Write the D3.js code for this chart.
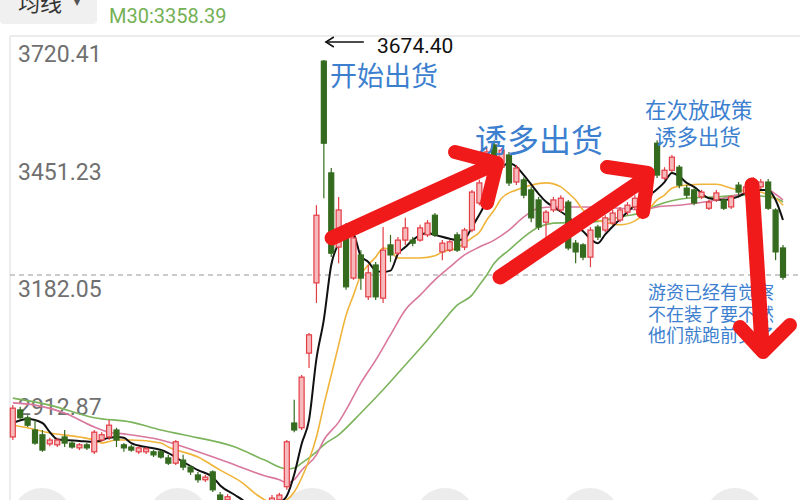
<!DOCTYPE html>
<html><head><meta charset="utf-8">
<script src="https://cdn.jsdelivr.net/npm/d3@7/dist/d3.min.js"></script>
<style>body{margin:0;background:#fff}svg{display:block}</style>
</head><body>
<svg id="c" width="800" height="500"></svg>
<script>
// ---- data ----
const yTicks = [3720.41, 3451.23, 3182.05, 2912.87];
const yTickLabels = ["3720.41", "3451.23", "3182.05", "2912.87"];
const refLine = 3182.05;
const peakValue = 3674.40;
const ma30Label = "M30:3358.39";

const opens = [2811,2873,2855,2827,2816,2795,2793,2811,2797,2786,2793,2777,2804,2811,2827,2793,2788,2777,2777,2777,2777,2763,2751,2758,2742,2724,2713,2731,2678,2667,2655,2644,2621,2632,2632,2655,2667,2697,2843,2832,3003,3164,3672,3416,3246,3292,3175,3228,3132,3205,3129,3251,3232,3262,3262,3262,3274,3319,3235,3239,3274,3246,3285,3347,3422,3480,3429,3457,3395,3400,3377,3354,3303,3331,3331,3349,3255,3251,3223,3292,3285,3301,3308,3326,3338,3354,3365,3484,3404,3422,3429,3381,3377,3361,3335,3354,3354,3338,3388,3370,3386,3384,3395,3331,3244];
const highs = [2884,2880,2861,2850,2827,2809,2809,2827,2802,2797,2797,2827,2822,2850,2832,2797,2793,2790,2788,2781,2781,2770,2804,2770,2747,2731,2724,2735,2685,2680,2662,2648,2644,2639,2662,2678,2683,2804,2896,2953,3049,3342,3674.4,3427,3361,3301,3274,3239,3205,3212,3292,3274,3269,3313,3269,3297,3308,3324,3262,3262,3280,3290,3377,3400,3473,3491,3473,3464,3434,3406,3384,3361,3331,3361,3365,3354,3262,3255,3292,3297,3319,3331,3338,3349,3365,3377,3395,3491,3429,3457,3434,3388,3381,3377,3354,3377,3358,3365,3395,3388,3406,3402,3402,3335,3251];
const lows = [2804,2850,2834,2793,2777,2790,2788,2788,2784,2781,2781,2772,2800,2804,2788,2777,2777,2772,2772,2765,2761,2747,2747,2735,2724,2706,2708,2685,2655,2660,2632,2621,2614,2609,2621,2648,2662,2690,2822,2827,2969,3118,3358,3223,3209,3148,3171,3148,3125,3125,3118,3212,3228,3251,3248,3258,3269,3269,3216,3235,3235,3239,3280,3342,3418,3445,3422,3386,3388,3358,3303,3285,3262,3326,3326,3239,3209,3216,3200,3262,3280,3297,3303,3319,3331,3349,3361,3404,3400,3418,3381,3358,3342,3356,3331,3349,3331,3333,3365,3365,3381,3379,3331,3216,3171];
const closes = [2877,2855,2838,2797,2781,2804,2804,2797,2788,2793,2786,2822,2816,2838,2804,2786,2781,2786,2784,2770,2765,2751,2800,2742,2731,2713,2719,2690,2662,2674,2639,2626,2639,2616,2655,2671,2678,2800,2827,2948,3045,3319,3484,3232,3331,3155,3267,3175,3187,3132,3239,3228,3262,3290,3255,3290,3301,3274,3255,3258,3239,3285,3372,3393,3464,3450,3468,3393,3427,3365,3313,3292,3326,3354,3358,3244,3235,3223,3285,3269,3313,3324,3331,3342,3358,3372,3388,3411,3422,3452,3388,3365,3347,3372,3349,3370,3335,3361,3372,3384,3400,3395,3335,3235,3177];

// moving averages: [candle index, value]
const ma5 = [[0,2843],[2,2852],[4,2843],[5,2822],[6,2806],[9,2802],[11,2800],[13,2809],[14,2811],[15,2809],[16,2797],[18,2788],[20,2781],[21,2774],[23,2754],[25,2735],[27,2719],[28,2700],[30,2678],[31,2667],[33,2642],[35,2648],[36,2660],[37,2676],[38,2725],[39,2795],[40,2850],[41,2990],[42,3080],[43,3205],[44,3255],[45,3283],[46,3276],[47,3225],[48,3212],[49,3192],[50,3189],[51,3192],[52,3230],[53,3246],[54,3262],[56,3278],[57,3274],[59,3265],[60,3262],[61,3265],[62,3292],[64,3354],[65,3400],[66,3427],[67,3438],[68,3430],[69,3411],[71,3368],[72,3350],[73,3338],[75,3315],[77,3282],[79,3255],[80,3275],[82,3310],[84,3342],[86,3365],[88,3395],[89,3416],[90,3408],[91,3393],[92,3384],[94,3358],[96,3354],[98,3362],[100,3377],[102,3377],[103,3354],[104,3308]];
const ma10 = [[0,2838],[2,2832],[5,2820],[9,2811],[11,2804],[12,2797],[14,2804],[16,2804],[20,2797],[21,2788],[25,2765],[28,2735],[31,2706],[33,2678],[34,2667],[35,2660],[36,2660],[37,2667],[38,2685],[39,2717],[40,2758],[41,2811],[42,2884],[43,2953],[44,3022],[45,3090],[46,3136],[47,3182],[48,3205],[49,3223],[50,3244],[51,3239],[52,3221],[55,3221],[57,3226],[58,3235],[60,3244],[61,3255],[62,3267],[63,3280],[64,3308],[65,3331],[66,3358],[68,3377],[70,3388],[72,3393],[74,3384],[75,3370],[76,3354],[77,3331],[78,3315],[80,3303],[82,3297],[84,3306],[85,3319],[86,3335],[87,3354],[88,3365],[89,3381],[91,3388],[93,3390],[95,3390],[97,3381],[99,3374],[101,3372],[102,3365],[103,3358],[104,3342]];
const ma20 = [[0,2889],[3,2884],[7,2866],[11,2834],[13,2822],[15,2818],[20,2804],[25,2777],[30,2747],[34,2722],[36,2713],[37,2706],[38,2713],[39,2735],[41,2770],[42,2804],[44,2845],[45,2873],[47,2935],[49,2987],[51,3045],[53,3102],[55,3136],[57,3171],[59,3200],[61,3228],[63,3246],[65,3262],[67,3285],[69,3315],[71,3335],[73,3338],[77,3338],[82,3335],[85,3331],[87,3338],[90,3342],[95,3354],[99,3370],[101,3377],[102,3377],[103,3367],[104,3354]];
const ma30 = [[0,2900],[5,2884],[11,2855],[16,2845],[20,2827],[23,2816],[30,2788],[34,2758],[37,2738],[38,2740],[39,2751],[41,2777],[42,2793],[44,2816],[47,2866],[50,2919],[53,2976],[56,3033],[58,3074],[60,3113],[62,3136],[63,3159],[64,3182],[65,3209],[67,3239],[69,3269],[71,3292],[73,3301],[78,3303],[82,3315],[85,3326],[87,3342],[91,3358],[95,3361],[99,3365],[101,3363],[102,3361],[103,3358],[104,3350]];

const notes = {
  start: "开始出货",
  lure1: "诱多出货",
  lure2a: "在次放政策",
  lure2b: "诱多出货",
  warn: ["游资已经有觉察", "不在装了要不然", "他们就跑前头了"]
};

// ---- drawing ----
const svg = d3.select("#c");
const W = 800, H = 500;
const x = d3.scaleLinear().domain([0, opens.length - 1]).range([12.8, 783]);
const y = d3.scaleLinear().domain([2912.87, 3720.41]).range([392.5, 40]);

// top bar
svg.append("rect").attr("x", 0).attr("y", -6).attr("width", 97).attr("height", 30).attr("rx", 4).attr("fill", "#f0f0f0");
svg.append("text").attr("x", 18).attr("y", 11).attr("font-family", "Noto Sans CJK SC").attr("font-size", 22).attr("fill", "#333").text("均线");
svg.append("text").attr("x", 74).attr("y", 6).attr("font-family", "Noto Sans CJK SC").attr("font-size", 12).attr("fill", "#555").text("▾");
svg.append("text").attr("x", 109).attr("y", 23).attr("font-family", "Roboto, sans-serif").attr("font-size", 20).attr("fill", "#74b155").text(ma30Label);

// frame
svg.append("line").attr("x1", 10).attr("x2", W).attr("y1", 36).attr("y2", 36).attr("stroke", "#e6e6e6").attr("stroke-width", 1.5);
svg.append("line").attr("x1", 10).attr("x2", 10).attr("y1", 36).attr("y2", H).attr("stroke", "#e6e6e6").attr("stroke-width", 1.5);

// ref dashed line
svg.append("line").attr("x1", 10).attr("x2", W).attr("y1", y(refLine)).attr("y2", y(refLine))
  .attr("stroke", "#bbb").attr("stroke-width", 1.5).attr("stroke-dasharray", "5,4");

// bottom faint circles
[42, 178, 312, 445, 590, 735].forEach(cx => {
  svg.append("circle").attr("cx", cx).attr("cy", 518).attr("r", 30).attr("fill", "#ececec");
});

// y labels
svg.selectAll("text.yl").data(yTicks).enter().append("text").attr("class", "yl")
  .attr("x", 18).attr("y", d => y(d) + 22)
  .attr("font-family", "Roboto, sans-serif").attr("font-size", 23).attr("fill", "#707070")
  .text((d, i) => yTickLabels[i]);

// MA lines
const line = d3.line().x(d => x(d[0])).y(d => y(d[1])).curve(d3.curveMonotoneX);
[[ma30, "#7cb45c", 1.6], [ma20, "#d9789d", 1.6], [ma10, "#f0b43a", 1.6], [ma5, "#111", 2]].forEach(([data, col, w]) => {
  svg.append("path").attr("d", line(data)).attr("fill", "none").attr("stroke", col).attr("stroke-width", w);
});

// candles
const bw = 5;
const candles = svg.append("g");
opens.forEach((o, i) => {
  const c = closes[i], up = c >= o;
  const col = up ? "#e33d45" : "#356b1f";
  const cx = x(i);
  candles.append("line").attr("x1", cx).attr("x2", cx).attr("y1", y(highs[i])).attr("y2", y(lows[i]))
    .attr("stroke", col).attr("stroke-width", 1.2);
  const top = y(Math.max(o, c)), bot = y(Math.min(o, c));
  candles.append("rect").attr("x", cx - bw / 2).attr("y", top).attr("width", bw).attr("height", Math.max(1.5, bot - top))
    .attr("fill", up ? "#f6b9bc" : "#356b1f").attr("stroke", col).attr("stroke-width", 1.2);
});

// peak annotation
const px = x(42);
svg.append("line").attr("x1", px + 2).attr("x2", px + 40).attr("y1", 42).attr("y2", 42).attr("stroke", "#111").attr("stroke-width", 1.5);
svg.append("path").attr("d", `M${px + 10},37 L${px + 2},42 L${px + 10},47`).attr("fill", "none").attr("stroke", "#111").attr("stroke-width", 1.5);
svg.append("text").attr("x", 377).attr("y", 53).attr("font-family", "Roboto, sans-serif").attr("font-size", 21).attr("fill", "#111").text(peakValue.toFixed(2));

const blue = "#3d7fcf";
const cjk = "Noto Sans CJK SC";
svg.append("text").attr("x", 330).attr("y", 86).attr("font-family", cjk).attr("font-size", 27).attr("fill", blue).text(notes.start);
svg.append("text").attr("x", 475).attr("y", 152).attr("font-family", cjk).attr("font-size", 32).attr("fill", blue).text(notes.lure1);
const t2 = svg.append("text").attr("font-family", cjk).attr("font-size", 21.5).attr("fill", blue);
t2.append("tspan").attr("x", 645).attr("y", 118).text(notes.lure2a);
t2.append("tspan").attr("x", 655).attr("y", 145).text(notes.lure2b);
const t3 = svg.append("text").attr("font-family", cjk).attr("font-size", 18).attr("fill", blue);
notes.warn.forEach((t, i) => {
  t3.append("tspan").attr("x", 648).attr("y", 299 + i * 21.5).text(t);
});

// red arrows (drawn over text)
const red = "#f01a1a";
const arrows = [
  ["M332,238 L492,165", "M455,152 L497,163 L487,203"],
  ["M500,277 L640,182", "M607,167 L648,173 L643,212"],
  ["M752,185 L762,345", "M740,327 L763,352 L790,325"]
];
arrows.forEach(([shaft, head]) => {
  svg.append("path").attr("d", shaft).attr("fill", "none").attr("stroke", red).attr("stroke-width", 15).attr("stroke-linecap", "round");
  svg.append("path").attr("d", head).attr("fill", "none").attr("stroke", red).attr("stroke-width", 14).attr("stroke-linecap", "round").attr("stroke-linejoin", "round");
});
</script>
</body></html>
